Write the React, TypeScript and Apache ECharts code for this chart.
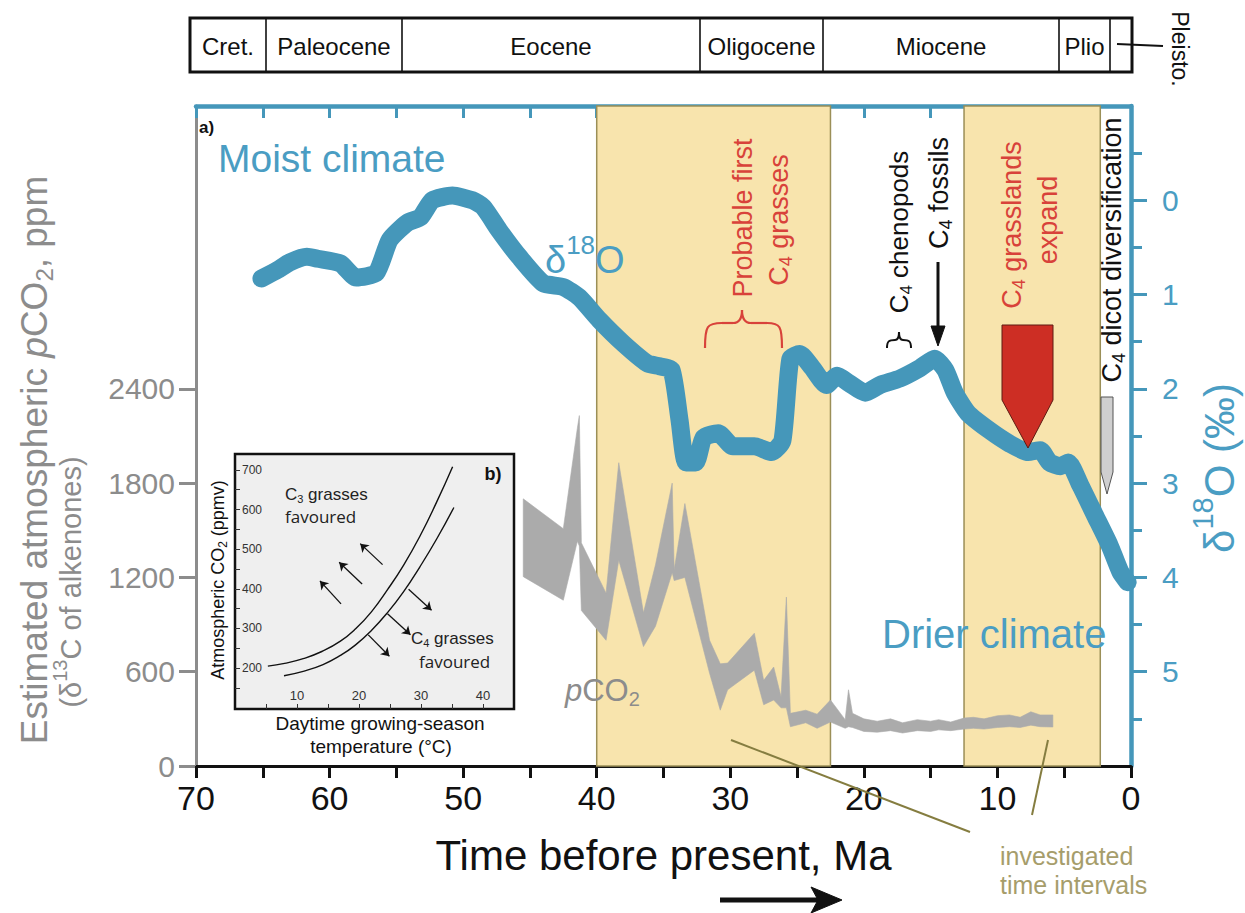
import React, { useEffect, useRef } from 'react';
import * as echarts from 'echarts';

const FONT = "'Liberation Sans', Arial, Helvetica, sans-serif";
const HUM = "'Open Sans', 'Liberation Sans', sans-serif";
const BLUE = '#4597ba';
const BLUE_TEXT = '#4a9dc3';
const GRAY = '#8c8c8c';
const BAND_GRAY = '#ababab';
const RED = '#d8423a';
const OLIVE = '#9b8f57';
const OLIVE_LINE = '#857d40';
const YELLOW = '#f8e4ad';
const BLACK = '#111111';

// ---- data: benthic δ18O (‰) vs age (Ma) ----
const d18oAge = [65.1, 63.9, 63.0, 61.7, 60.9, 59.2, 58.0, 56.5, 55.5, 54.2, 53.2, 52.3, 50.8, 49.3, 48.5, 47.3, 45.8, 44.0, 42.5, 41.3, 39.8, 38.0, 36.2, 35.3, 34.4, 33.8, 33.3, 32.6, 32.0, 30.9, 29.8, 28.2, 26.9, 26.1, 25.5, 24.8, 23.9, 22.8, 22.0, 21.1, 19.9, 18.8, 17.3, 15.8, 14.7, 13.9, 13.2, 12.2, 10.6, 9.1, 7.7, 6.8, 6.1, 5.3, 4.7, 3.8, 2.7, 1.6, 0.8, 0.25];
const d18oValue = [0.83, 0.74, 0.66, 0.60, 0.62, 0.67, 0.82, 0.77, 0.42, 0.24, 0.18, 0.0, -0.05, 0.0, 0.07, 0.32, 0.60, 0.88, 0.92, 1.03, 1.27, 1.52, 1.73, 1.76, 1.80, 2.33, 2.78, 2.78, 2.52, 2.47, 2.61, 2.61, 2.67, 2.55, 1.68, 1.63, 1.77, 1.96, 1.86, 1.94, 2.04, 1.96, 1.89, 1.78, 1.68, 1.80, 2.04, 2.26, 2.44, 2.58, 2.67, 2.65, 2.78, 2.82, 2.78, 3.02, 3.34, 3.66, 3.94, 4.05];

// ---- data: alkenone pCO2 envelope (ppm) ----
const pco2Age = [45.5, 42.5, 41.45, 41.3, 41.15, 39.3, 38.35, 36.5, 35.6, 34.35, 34.2, 33.4, 31.55, 30.75, 30.2, 28.2, 27.5, 26.75, 26.2, 25.8, 25.5, 24.35, 23.5, 22.5, 21.4, 21.15, 20.85, 20.0, 19.0, 18.0, 17.1, 16.0, 15.0, 14.4, 13.5, 12.5, 11.8, 11.0, 10.0, 9.1, 8.3, 7.5, 6.8, 5.85];
const pco2High = [1700, 1510, 2150, 2230, 1420, 1100, 1930, 975, 1280, 1800, 1250, 1670, 800, 650, 655, 845, 545, 630, 440, 1075, 335, 355, 330, 420, 295, 485, 335, 300, 285, 300, 275, 295, 285, 295, 280, 305, 310, 300, 320, 325, 310, 345, 325, 325];
const pco2Low = [1205, 1055, 1430, 1400, 990, 800, 1310, 760, 890, 1230, 1180, 1200, 590, 355, 485, 610, 390, 420, 370, 370, 250, 275, 240, 280, 240, 250, 245, 220, 215, 225, 210, 225, 220, 230, 225, 235, 240, 235, 245, 250, 245, 260, 250, 248];

// investigated time intervals (Ma)
const intervalBands = [[40, 22.5], [12.5, 2.3]];

// axis tick labels
const timeLabels = [0, 10, 20, 30, 40, 50, 60, 70];
const co2Labels = [0, 600, 1200, 1800, 2400];
const d18oLabels = [0, 1, 2, 3, 4, 5];

// ---- inset b): C3/C4 crossover curves ----
const insetTempUpper = [5.3, 8, 11, 14, 17, 19.5, 22, 24.6, 27.2, 29.8, 32.5, 35.1];
const insetCo2Upper = [205, 212, 224, 242, 268, 300, 342, 398, 460, 532, 618, 708];
const insetTempLower = [7.9, 11, 14.2, 17, 19.4, 22, 24.6, 27.2, 29.8, 32.5, 35.3];
const insetCo2Lower = [181, 192, 209, 232, 258, 295, 340, 393, 455, 525, 605];
const insetArrows = [
  [17.1, 362, 13.7, 420], [20.5, 412, 16.8, 467], [23.8, 461, 20.2, 514],
  [28.0, 399, 31.7, 346], [24.6, 337, 28.3, 284], [21.5, 284, 24.9, 230],
];
const insetXLabels = [10, 20, 30, 40];
const insetXTicks = [5, 10, 15, 20, 25, 30, 35, 40];
const insetYLabels = [200, 300, 400, 500, 600, 700];
const insetYTicks = [150, 200, 250, 300, 350, 400, 450, 500, 550, 600, 650, 700];

// epoch bar
const epochNames = ['Cret.', 'Paleocene', 'Eocene', 'Oligocene', 'Miocene', 'Plio', ''];
const EPOCH_EDGES = [190, 266, 402, 700, 823, 1059, 1110, 1132];

const Z = 100;
const PI2 = Math.PI / 2;

function subRich(size: number) {
  return {
    n: { fontSize: size, lineHeight: Math.round(size * 1.2), fontFamily: FONT },
    i: { fontSize: size, lineHeight: Math.round(size * 1.2), fontFamily: FONT, fontStyle: 'italic' },
    s: { fontSize: Math.round(size * 0.65), lineHeight: Math.round(size * 0.65), verticalAlign: 'bottom', fontFamily: FONT },
  };
}
function supRich(size: number) {
  return {
    n: { fontSize: size, lineHeight: Math.round(size * 1.48), fontFamily: FONT },
    u: { fontSize: Math.round(size * 0.68), lineHeight: Math.round(size * 0.58), verticalAlign: 'top', fontFamily: FONT },
  };
}

function buildGraphics() {
  const g: any[] = [];
  const t = (text: string, x: number, y: number, size: number, fill: string, extra: any = {}) => {
    g.push({
      type: 'text', x, y, z: Z, silent: true, rotation: extra.rotation || 0,
      style: {
        text, fontSize: size, fontFamily: extra.family || FONT, fill,
        fontWeight: extra.weight || 'normal', fontStyle: extra.fontStyle || 'normal',
        align: extra.align || 'center', verticalAlign: 'middle', rich: extra.rich,
      },
    });
  };
  const line = (x1: number, y1: number, x2: number, y2: number, stroke: string, w: number) =>
    g.push({ type: 'line', z: Z, silent: true, shape: { x1, y1, x2, y2 }, style: { stroke, lineWidth: w } });
  const poly = (points: number[][], fill: string, stroke: string, w = 1) =>
    g.push({ type: 'polygon', z: Z, silent: true, shape: { points }, style: { fill, stroke, lineWidth: w } });
  const bez = (s: any, stroke: string, w: number) =>
    g.push({ type: 'bezierCurve', z: Z, silent: true, shape: s, style: { stroke, lineWidth: w, fill: 'none' } });

  // epoch bar
  g.push({ type: 'rect', z: Z, silent: true, shape: { x: EPOCH_EDGES[0], y: 18, width: EPOCH_EDGES[7] - EPOCH_EDGES[0], height: 54 }, style: { fill: '#fff', stroke: BLACK, lineWidth: 3 } });
  for (let i = 1; i < EPOCH_EDGES.length - 1; i++) line(EPOCH_EDGES[i], 18, EPOCH_EDGES[i], 72, BLACK, 1.6);
  epochNames.forEach((n, i) => { if (n) t(n, (EPOCH_EDGES[i] + EPOCH_EDGES[i + 1]) / 2, 46, 24, BLACK); });
  line(1117, 44, 1163, 46, BLACK, 2);
  t('Pleisto.', 1180, 49, 23, BLACK, { rotation: -PI2 });

  // panel labels
  t('a)', 199, 127, 17, BLACK, { weight: 'bold', align: 'left' });
  t('Moist climate', 218, 158, 39, BLUE_TEXT, { align: 'left' });
  t('Drier climate', 882, 634, 40, BLUE_TEXT, { align: 'left' });
  t('{n|δ}{u|18}{n|O}', 545, 260, 38, BLUE_TEXT, { align: 'left', rich: supRich(38) });
  t('{i|p}{n|CO}{s|2}', 565, 690, 31, GRAY, { align: 'left', rich: subRich(31) });

  // probable first C4 grasses
  t('Probable first', 743, 218, 27, RED, { rotation: PI2 });
  t('{n|C}{s|4}{n| grasses}', 779, 220, 27, RED, { rotation: PI2, rich: subRich(27) });
  bez({ x1: 705, y1: 348, cpx1: 705, cpy1: 326, cpx2: 707, cpy2: 323, x2: 722, y2: 323 }, RED, 2.2);
  line(722, 323, 733, 323, RED, 2.2);
  bez({ x1: 733, y1: 323, cpx1: 740, cpy1: 323, cpx2: 742, cpy2: 318, x2: 742, y2: 310 }, RED, 2.2);
  bez({ x1: 742, y1: 310, cpx1: 742, cpy1: 318, cpx2: 744, cpy2: 323, x2: 751, y2: 323 }, RED, 2.2);
  line(751, 323, 767, 323, RED, 2.2);
  bez({ x1: 767, y1: 323, cpx1: 780, cpy1: 323, cpx2: 782, cpy2: 326, x2: 782, y2: 348 }, RED, 2.2);

  // chenopods & fossils
  t('{n|C}{s|4}{n| chenopods}', 899, 232, 26, BLACK, { rotation: PI2, rich: subRich(26) });
  bez({ x1: 887, y1: 348, cpx1: 887, cpy1: 341, cpx2: 889, cpy2: 340, x2: 895, y2: 340 }, BLACK, 2);
  bez({ x1: 895, y1: 340, cpx1: 898, cpy1: 340, cpx2: 899, cpy2: 337, x2: 899, y2: 332 }, BLACK, 2);
  bez({ x1: 899, y1: 332, cpx1: 899, cpy1: 337, cpx2: 900, cpy2: 340, x2: 903, y2: 340 }, BLACK, 2);
  bez({ x1: 903, y1: 340, cpx1: 909, cpy1: 340, cpx2: 911, cpy2: 341, x2: 911, y2: 348 }, BLACK, 2);
  t('{n|C}{s|4}{n| fossils}', 939, 193, 27, BLACK, { rotation: PI2, rich: subRich(27) });
  line(938, 262, 938, 330, BLACK, 3);
  poly([[931, 326], [945, 326], [938, 346]], BLACK, BLACK, 1);

  // grasslands expand
  t('{n|C}{s|4}{n| grasslands}', 1012, 225, 27, RED, { rotation: PI2, rich: subRich(27) });
  t('expand', 1048, 220, 27, RED, { rotation: PI2 });
  poly([[1002, 325], [1053, 325], [1053, 400], [1028, 448], [1002, 400]], '#cd2e24', '#5e1a12', 1);

  // dicot
  t('{n|C}{s|4}{n| dicot diversification}', 1112, 250, 27, BLACK, { rotation: PI2, rich: subRich(27) });
  poly([[1101, 397], [1113, 397], [1113, 472], [1107, 494], [1101, 472]], '#cfcfcf', '#555555', 1);

  // investigated intervals
  line(731, 740, 970, 832, OLIVE_LINE, 2);
  line(1048, 740, 1032, 815, OLIVE_LINE, 2);
  t('investigated', 1000, 856, 25, '#a69d6b', { align: 'left' });
  t('time intervals', 1000, 885, 25, '#a69d6b', { align: 'left' });

  // time arrow
  line(720, 900, 822, 900, BLACK, 5);
  poly([[811, 887], [842, 900], [811, 913], [818, 900]], BLACK, BLACK, 1);

  // left axis name
  t('{n|Estimated atmospheric }{i|p}{n|CO}{s|2}{n|, ppm}', 34, 460, 37, GRAY, { rotation: PI2, rich: subRich(37) });
  t('{n|(δ}{u|13}{n|C of alkenones)}', 71, 582, 29, GRAY, { rotation: PI2, rich: supRich(29) });
  // right axis name
  t('{n|δ}{u|18}{n|O (‰)}', 1219, 468, 42, BLUE_TEXT, { rotation: PI2, rich: supRich(42) });

  // inset texts
  t('b)', 493, 474, 18, BLACK, { weight: 'bold' });
  t('{n|C}{s|3}{n| grasses}', 285, 494, 17, '#222', { align: 'left', rich: subRich(17) });
  t('favoured', 285, 516, 17, '#222', { align: 'left', family: HUM });
  t('{n|C}{s|4}{n| grasses}', 411, 638, 17, '#222', { align: 'left', rich: subRich(17) });
  t('favoured', 419, 661, 17, '#222', { align: 'left', family: HUM });
  t('{n|Atmospheric CO}{s|2}{n| (ppmv)}', 218, 580, 18, BLACK, { rotation: PI2, rich: subRich(18) });
  t('Daytime growing-season', 380, 723, 19, BLACK);
  t('temperature (°C)', 381, 746, 19, BLACK);
  return g;
}

function buildOption(): any {
  const d18oData = d18oAge.map((a, i) => [a, d18oValue[i]]);
  const upper = insetTempUpper.map((a, i) => [a, insetCo2Upper[i]]);
  const lower = insetTempLower.map((a, i) => [a, insetCo2Lower[i]]);
  const noSplit = { show: false };
  const plain = (v: number) => String(v);
  return {
    animation: false,
    backgroundColor: '#ffffff',
    textStyle: { fontFamily: FONT },
    grid: [
      { left: 196, top: 106, width: 935, height: 660, containLabel: false, outerBoundsMode: 'none' },
      { left: 235, top: 454, width: 279, height: 255, show: true, backgroundColor: '#efefef', borderColor: BLACK, borderWidth: 2.5, containLabel: false, outerBoundsMode: 'none' },
    ],
    xAxis: [
      {
        gridIndex: 0, type: 'value', min: 0, max: 70, interval: 5, inverse: true, position: 'bottom',
        axisLine: { show: true, onZero: false, lineStyle: { color: BLACK, width: 3 } },
        axisTick: { show: true, length: 12, lineStyle: { color: BLACK, width: 3 } },
        axisLabel: { customValues: timeLabels, formatter: plain, fontSize: 34, color: BLACK, margin: 15, fontFamily: FONT },
        splitLine: noSplit,
        name: 'Time before present, Ma', nameLocation: 'middle', nameGap: 68,
        nameTextStyle: { fontSize: 42, color: BLACK, fontFamily: FONT },
      },
      {
        gridIndex: 0, type: 'value', min: 0, max: 70, interval: 5, inverse: true, position: 'top',
        axisLine: { show: true, onZero: false, lineStyle: { color: BLUE, width: 4.5 } },
        axisTick: { show: true, inside: true, length: 12, lineStyle: { color: BLUE, width: 3 } },
        axisLabel: { show: false }, splitLine: noSplit,
      },
      {
        gridIndex: 1, type: 'value', min: 0, max: 45, interval: 5,
        axisLine: { show: false, onZero: false },
        axisTick: { show: true, inside: true, length: 5, customValues: insetXTicks, lineStyle: { color: '#333', width: 1 } },
        axisLabel: { inside: true, customValues: insetXLabels, formatter: plain, fontSize: 13, color: '#333', margin: 7, fontFamily: FONT },
        splitLine: noSplit,
      },
    ],
    yAxis: [
      {
        gridIndex: 0, type: 'value', min: 0, max: 4200, interval: 600, position: 'left',
        axisLine: { show: true, onZero: false, lineStyle: { color: GRAY, width: 3 } },
        axisTick: { show: true, length: 17, customValues: co2Labels, lineStyle: { color: GRAY, width: 3 } },
        axisLabel: { customValues: co2Labels, formatter: plain, fontSize: 30, color: GRAY, margin: 21, fontFamily: FONT },
        splitLine: noSplit,
      },
      {
        gridIndex: 0, type: 'value', min: -1, max: 6, interval: 1, inverse: true, position: 'right',
        axisLine: { show: true, onZero: false, lineStyle: { color: BLUE, width: 4.5 } },
        axisTick: { show: true, length: 16, customValues: d18oLabels, lineStyle: { color: BLUE, width: 3 } },
        minorTick: { show: true, splitNumber: 2, length: 11, lineStyle: { color: BLUE, width: 3 } },
        axisLabel: { customValues: d18oLabels, formatter: plain, fontSize: 30, color: BLUE_TEXT, margin: 31, fontFamily: FONT },
        splitLine: noSplit, minorSplitLine: noSplit,
      },
      {
        gridIndex: 1, type: 'value', min: 97, max: 740,
        axisLine: { show: false, onZero: false },
        axisTick: { show: true, inside: true, length: 5, customValues: insetYTicks, lineStyle: { color: '#333', width: 1 } },
        axisLabel: { inside: true, customValues: insetYLabels, formatter: plain, fontSize: 12, color: '#333', margin: 7, fontFamily: FONT },
        splitLine: noSplit,
      },
    ],
    series: [
      {
        type: 'custom', name: 'pCO2', xAxisIndex: 0, yAxisIndex: 0, silent: true, z: 3,
        data: [[30, 1000]],
        renderItem: (_params: any, api: any) => {
          const pts: number[][] = [];
          for (let i = 0; i < pco2Age.length; i++) pts.push(api.coord([pco2Age[i], pco2High[i]]));
          for (let i = pco2Age.length - 1; i >= 0; i--) pts.push(api.coord([pco2Age[i], pco2Low[i]]));
          return { type: 'polygon', shape: { points: pts }, style: { fill: BAND_GRAY, stroke: BAND_GRAY, lineWidth: 0.6 } };
        },
      },
      {
        type: 'line', name: 'δ18O', xAxisIndex: 0, yAxisIndex: 1, data: d18oData, symbol: 'none', smooth: 0.2, silent: true, z: 4,
        lineStyle: { color: BLUE, width: 18, cap: 'round', join: 'round' },
        markArea: {
          silent: true, label: { show: false },
          itemStyle: { color: YELLOW, borderColor: OLIVE, borderWidth: 1.5 },
          data: intervalBands.map(([a, b]) => [{ xAxis: a }, { xAxis: b }]),
        },
      },
      {
        type: 'line', name: 'upper', xAxisIndex: 2, yAxisIndex: 2, data: upper, symbol: 'none', smooth: true, silent: true, z: 5,
        lineStyle: { color: BLACK, width: 1.4 },
        markLine: {
          silent: true, symbol: ['none', 'arrow'], symbolSize: 8, label: { show: false },
          lineStyle: { color: BLACK, width: 1.3, type: 'solid' },
          data: insetArrows.map(([x1, y1, x2, y2]) => [{ coord: [x1, y1] }, { coord: [x2, y2] }]),
        },
      },
      {
        type: 'line', name: 'lower', xAxisIndex: 2, yAxisIndex: 2, data: lower, symbol: 'none', smooth: true, silent: true, z: 5,
        lineStyle: { color: BLACK, width: 1.4 },
      },
    ],
    graphic: buildGraphics(),
  };
}

export default function App() {
  const ref = useRef<HTMLDivElement>(null);
  useEffect(() => {
    const chart = echarts.init(ref.current as HTMLDivElement, null, { renderer: 'svg' });
    chart.setOption(buildOption());
    return () => chart.dispose();
  }, []);
  return <div ref={ref} style={{ position: 'fixed', left: 0, top: 0, width: 1245, height: 913, background: '#fff' }} />;
}
